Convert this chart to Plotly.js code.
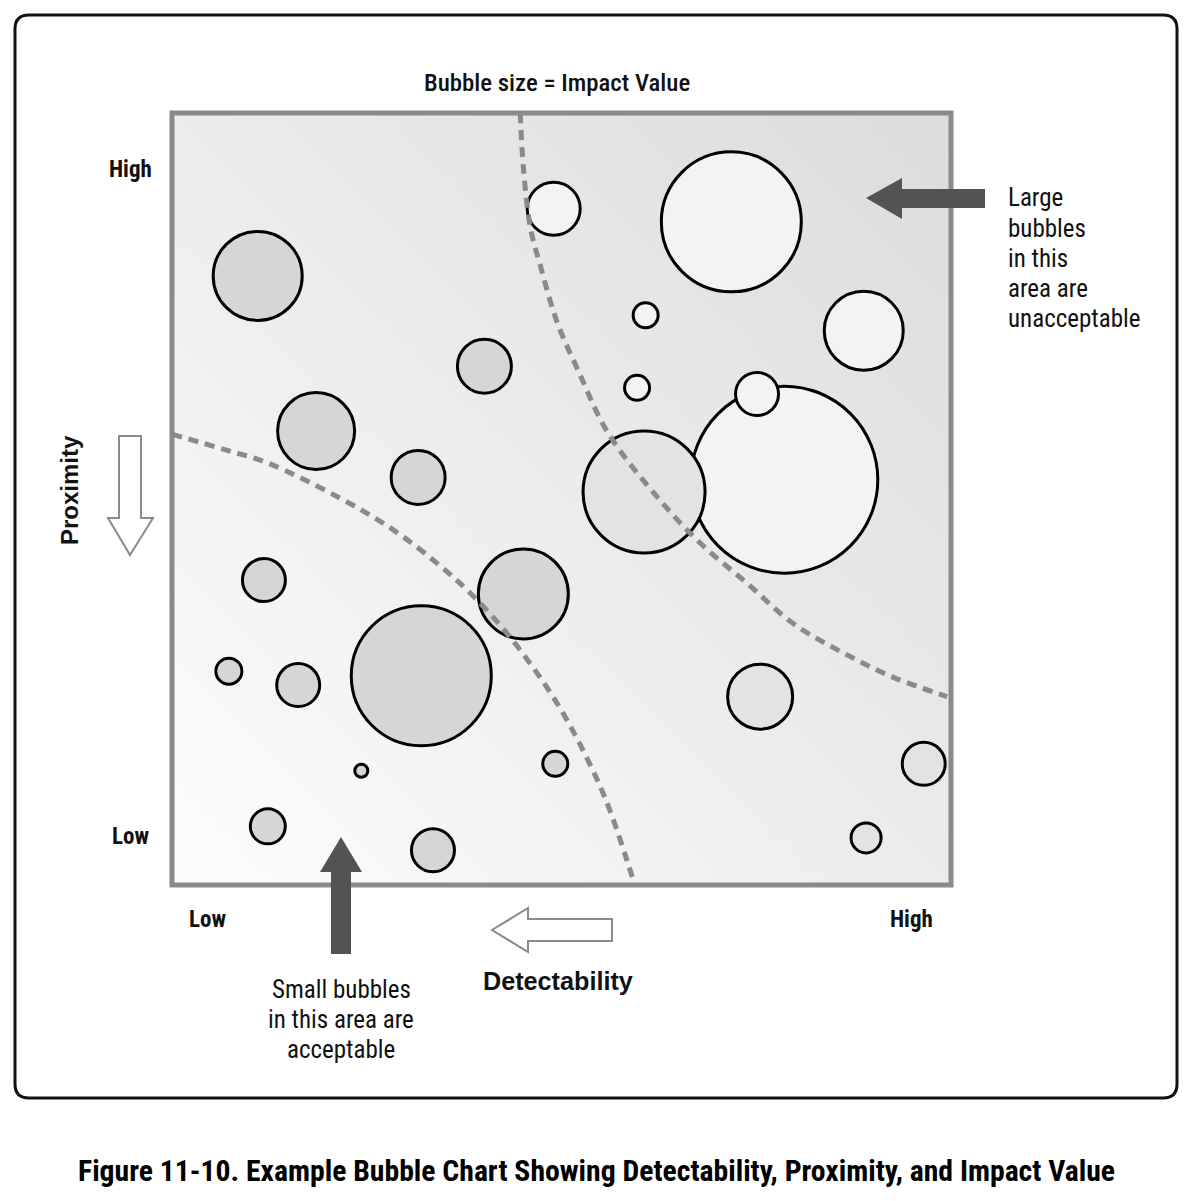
<!DOCTYPE html>
<html>
<head>
<meta charset="utf-8">
<script src="https://cdn.plot.ly/plotly-3.0.1.min.js"></script>
<style>
  html, body { margin: 0; padding: 0; background: #ffffff; }
  #chart { width: 1192px; height: 1201px; }
</style>
</head>
<body>
<div id="chart"></div>
<script>
// ---------------- DATA ----------------
// Detectability (x, 0 = Low .. 100 = High), Proximity (y, 0 = Low .. 100 = High)
const bubbleIds     = ['B9','B1','B2','B3','B4','B5','B6','B7','B10','B8','B11','B12','B13','B14','B15','B16','B17','B18','B19','B20','B21','B22','B23','B24'];
const detectability = [78.6, 11.0, 49.0, 71.8, 60.8, 88.8, 40.1, 59.7, 60.6, 75.1, 18.5, 31.6, 11.8, 45.1, 32.0,  7.3, 16.2, 24.3, 49.2, 12.3, 33.5, 75.5, 96.5, 89.1];
const proximity     = [52.5, 78.9, 87.6, 85.9, 73.8, 71.8, 67.2, 64.4, 50.9, 63.6, 58.8, 52.8, 39.5, 37.7, 27.1, 27.7, 25.9, 14.8, 15.7,  7.6,  4.5, 24.4, 15.7,  6.1];
const impactValue   = [ 190,   92,   56,  143,   28,   82,   57,   28,  125,   46,   80,   57,   46,   93,  143,   29,   46,   16,   28,   38,   46,   68,   46,   33];
const zone          = ['U',  'A',  'U',  'U',  'U',  'U',  'A',  'U',  'M',  'U',  'A',  'A',  'A',  'A',  'A',  'A',  'A',  'A',  'A',  'A',  'A',  'M',  'M',  'M'];

// Dashed boundary curves (data coordinates)
const acceptX   = [0.0, 7.1, 12.2, 21.6, 28.4, 34.0, 38.3, 43.4, 49.4, 54.0, 56.2, 58.4, 59.4];
const acceptY   = [58.4, 56.3, 54.7, 50.1, 46.0, 41.7, 37.8, 32.1, 23.6, 14.9, 9.7, 3.2, 0.0];
const unacceptX = [44.7, 45.1, 46.0, 47.4, 49.4, 52.2, 56.0, 62.6, 67.8, 73.8, 79.7, 86.1, 92.6, 99.5];
const unacceptY = [100.0, 93.0, 85.2, 79.8, 73.0, 66.5, 58.5, 49.9, 44.3, 39.1, 33.9, 30.1, 26.9, 24.4];

const titleText   = 'Bubble size = Impact Value';
const xAxisName   = 'Detectability';
const yAxisName   = 'Proximity';
const lowLabel    = 'Low';
const highLabel   = 'High';
const noteLarge   = ['Large', 'bubbles', 'in this', 'area are', 'unacceptable'];
const noteSmall   = ['Small bubbles', 'in this area are', 'acceptable'];
const captionText = 'Figure 11-10. Example Bubble Chart Showing Detectability, Proximity, and Impact Value';

// ---------------- LAYOUT HELPERS ----------------
const PL = 172, PR = 951, PT = 113, PB = 885;
const fx = px => (px - PL) / (PR - PL);
const fy = py => (PB - py) / (PB - PT);
const polyPath = pts => 'M ' + pts.map(p => fx(p[0]).toFixed(5) + ',' + fy(p[1]).toFixed(5)).join(' L ') + ' Z';

const zoneColor = { A: '#d6d6d8', M: '#e3e3e5', U: '#f3f3f3' };

// Background gradient for the plotting area
function gradientImage() {
  const c = document.createElement('canvas');
  c.width = 400; c.height = 400;
  const g = c.getContext('2d');
  const lg = g.createLinearGradient(0, 400, 400, 0);
  lg.addColorStop(0, '#fdfdfd');
  lg.addColorStop(0.5, '#ececed');
  lg.addColorStop(1, '#dcdcde');
  g.fillStyle = lg;
  g.fillRect(0, 0, 400, 400);
  return c.toDataURL('image/png');
}

const narrow = 'Roboto Condensed';
const wide = 'Liberation Sans';

// ---------------- TRACES ----------------
const bubbles = {
  type: 'scatter',
  mode: 'markers',
  x: detectability,
  y: proximity,
  text: bubbleIds,
  customdata: impactValue,
  hovertemplate: 'Detectability %{x}<br>Proximity %{y}<br>Impact %{customdata}<extra></extra>',
  marker: {
    size: impactValue.map(v => v - 3),
    sizemode: 'diameter',
    color: zone.map(z => zoneColor[z]),
    opacity: 1,
    line: { color: '#000000', width: 3 }
  },
  showlegend: false,
  cliponaxis: false
};

const dashStyle = { color: '#8a8a8a', width: 5, dash: '10px,7px', shape: 'spline', smoothing: 1 };
const curveAccept = { type: 'scatter', mode: 'lines', x: acceptX, y: acceptY, line: dashStyle, hoverinfo: 'skip', showlegend: false };
const curveUnaccept = { type: 'scatter', mode: 'lines', x: unacceptX, y: unacceptY, line: dashStyle, hoverinfo: 'skip', showlegend: false };

// ---------------- SHAPES ----------------
const frameL = 15, frameR = 1177, frameT = 15, frameB = 1098, rad = 14;
const framePath =
  'M ' + fx(frameL + rad) + ',' + fy(frameT) +
  ' L ' + fx(frameR - rad) + ',' + fy(frameT) +
  ' Q ' + fx(frameR) + ',' + fy(frameT) + ' ' + fx(frameR) + ',' + fy(frameT + rad) +
  ' L ' + fx(frameR) + ',' + fy(frameB - rad) +
  ' Q ' + fx(frameR) + ',' + fy(frameB) + ' ' + fx(frameR - rad) + ',' + fy(frameB) +
  ' L ' + fx(frameL + rad) + ',' + fy(frameB) +
  ' Q ' + fx(frameL) + ',' + fy(frameB) + ' ' + fx(frameL) + ',' + fy(frameB - rad) +
  ' L ' + fx(frameL) + ',' + fy(frameT + rad) +
  ' Q ' + fx(frameL) + ',' + fy(frameT) + ' ' + fx(frameL + rad) + ',' + fy(frameT) + ' Z';

const shapes = [
  { type: 'path', xref: 'paper', yref: 'paper', path: framePath, line: { color: '#111111', width: 3 }, fillcolor: 'rgba(0,0,0,0)', layer: 'below' },
  { type: 'rect', xref: 'paper', yref: 'paper', x0: 0, x1: 1, y0: 0, y1: 1, line: { color: '#8a8a8a', width: 5 }, fillcolor: 'rgba(0,0,0,0)', layer: 'above' },
  // filled arrow pointing left (unacceptable)
  { type: 'path', xref: 'paper', yref: 'paper', line: { width: 0 }, fillcolor: '#535353',
    path: polyPath([[866, 198], [902, 178], [902, 189], [985, 189], [985, 208], [902, 208], [902, 219]]) },
  // filled arrow pointing up (acceptable)
  { type: 'path', xref: 'paper', yref: 'paper', line: { width: 0 }, fillcolor: '#535353',
    path: polyPath([[341, 837], [362, 872], [351, 872], [351, 954], [331, 954], [331, 872], [320, 872]]) },
  // outline arrow pointing down (Proximity)
  { type: 'path', xref: 'paper', yref: 'paper', line: { color: '#8a8a8a', width: 2 }, fillcolor: '#ffffff',
    path: polyPath([[119, 436], [141, 436], [141, 518], [153, 518], [130, 555], [108, 518], [119, 518]]) },
  // outline arrow pointing left (Detectability)
  { type: 'path', xref: 'paper', yref: 'paper', line: { color: '#8a8a8a', width: 2 }, fillcolor: '#ffffff',
    path: polyPath([[492, 930], [528, 908], [528, 919], [612, 919], [612, 941], [528, 941], [528, 952]]) }
];

// ---------------- ANNOTATIONS ----------------
function ann(text, px, py, font, extra) {
  return Object.assign({ text: text, xref: 'paper', yref: 'paper', x: fx(px), y: fy(py),
    xanchor: 'center', yanchor: 'middle', showarrow: false, font: font }, extra || {});
}
const noteFont = { family: narrow, size: 25, color: '#111111' };
const annotations = [
  ann(titleText, 557, 82, { family: narrow, size: 24.8, color: '#111111', weight: 500 }),
  ann(highLabel, 130, 169, { family: narrow, size: 23, color: '#111111', weight: 'bold' }),
  ann(lowLabel, 130, 836, { family: narrow, size: 23, color: '#111111', weight: 'bold' }),
  ann(lowLabel, 207, 919, { family: narrow, size: 23, color: '#111111', weight: 'bold' }),
  ann(highLabel, 911, 919, { family: narrow, size: 23, color: '#111111', weight: 'bold' }),
  ann(yAxisName, 70, 490, { family: wide, size: 24, color: '#111111', weight: 'bold' }, { textangle: -90 }),
  ann(xAxisName, 558, 981, { family: wide, size: 25.2, color: '#111111', weight: 'bold' }),
  ann(captionText, 596, 1170, { family: narrow, size: 29.7, color: '#000000', weight: 'bold' })
].concat(
  noteLarge.map((line, i) => ann(line, 1006, 198 + 30 * i, noteFont, { xanchor: 'left', align: 'left' })),
  noteSmall.map((line, i) => ann(line, 341, 989 + 30 * i, noteFont, { align: 'center' }))
);

const hidden = { range: [0, 100], showgrid: false, zeroline: false, showticklabels: false, ticks: '', showline: false, fixedrange: true };

const layout = {
  width: 1192,
  height: 1201,
  margin: { l: PL, r: 1192 - PR, t: PT, b: 1201 - PB, pad: 0 },
  paper_bgcolor: '#ffffff',
  plot_bgcolor: 'rgba(0,0,0,0)',
  xaxis: Object.assign({}, hidden),
  yaxis: Object.assign({}, hidden),
  shapes: shapes,
  annotations: annotations,
  images: [{ source: gradientImage(), xref: 'paper', yref: 'paper', x: 0, y: 1, sizex: 1, sizey: 1,
             xanchor: 'left', yanchor: 'top', sizing: 'stretch', layer: 'below' }],
  showlegend: false,
  hovermode: 'closest'
};

Plotly.newPlot('chart', [bubbles, curveAccept, curveUnaccept], layout, { displayModeBar: false, staticPlot: false });
</script>
</body>
</html>
